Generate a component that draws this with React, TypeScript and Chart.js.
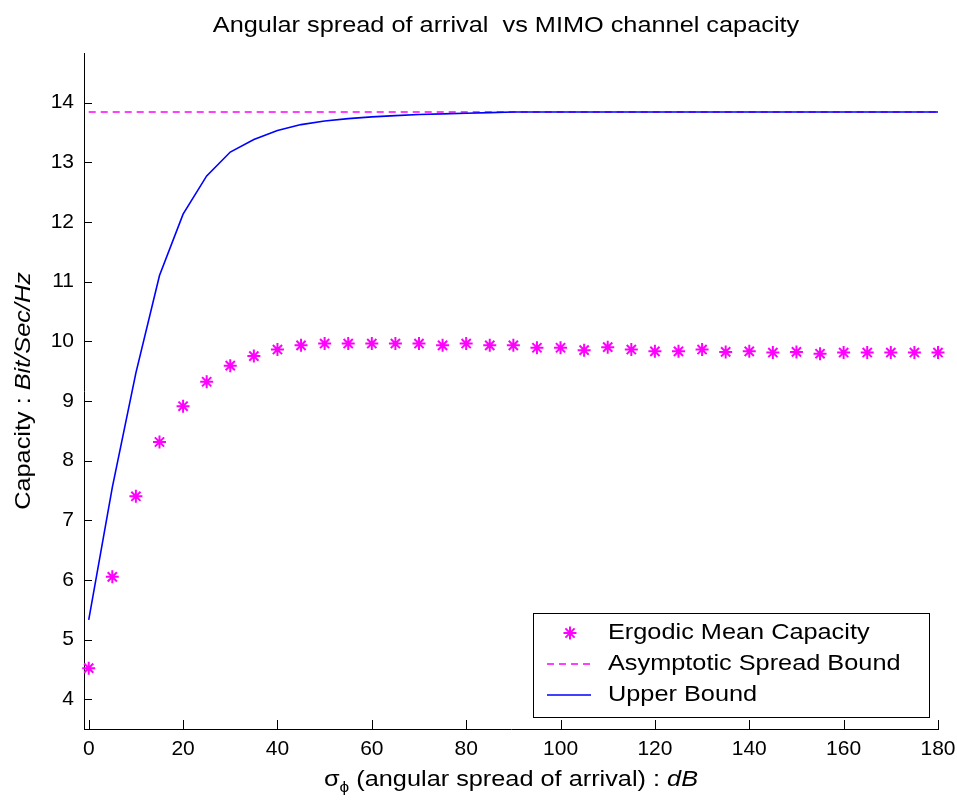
import React, { useEffect, useRef } from 'react';
import { Chart, registerables } from 'chart.js';

Chart.register(...registerables);

// ---- data ----
const SIGMA = [0, 5, 10, 15, 20, 25, 30, 35, 40, 45, 50, 55, 60, 65, 70, 75, 80, 85, 90, 95, 100, 105, 110, 115, 120, 125, 130, 135, 140, 145, 150, 155, 160, 165, 170, 175, 180];
const ERGODIC = [4.52, 6.05, 7.4, 8.31, 8.91, 9.32, 9.59, 9.75, 9.86, 9.93, 9.96, 9.96, 9.96, 9.96, 9.96, 9.93, 9.96, 9.93, 9.93, 9.89, 9.89, 9.85, 9.9, 9.86, 9.83, 9.83, 9.86, 9.82, 9.83, 9.81, 9.82, 9.79, 9.81, 9.81, 9.81, 9.81, 9.81];
const UPPER = [5.33, 7.55, 9.47, 11.1, 12.13, 12.77, 13.17, 13.38, 13.53, 13.63, 13.69, 13.73, 13.76, 13.78, 13.8, 13.81, 13.82, 13.83, 13.84, 13.84, 13.84, 13.84, 13.84, 13.84, 13.84, 13.84, 13.84, 13.84, 13.84, 13.84, 13.84, 13.84, 13.84, 13.84, 13.84, 13.84, 13.84];
const ASYMPTOTIC_X = [0, 180];
const ASYMPTOTIC_Y = [13.84, 13.84];
const X_TICKS = [0, 20, 40, 60, 80, 100, 120, 140, 160, 180];
const Y_TICKS = [4, 5, 6, 7, 8, 9, 10, 11, 12, 13, 14];
const SERIES_NAMES = ['Ergodic Mean Capacity', 'Upper Bound', 'Asymptotic Spread Bound'];
const LEGEND_ORDER = [0, 2, 1];
const TITLE = 'Angular spread of arrival  vs MIMO channel capacity';

const FONT = "'Liberation Sans', Arial, Helvetica, sans-serif";
const STRETCH = 1.15;
const MAGENTA = '#ff00ff';
const BLUE = '#0000ff';

type Seg = { text: string; font: string; dy?: number };

function segWidth(ctx: CanvasRenderingContext2D, segs: Seg[]) {
  let w = 0;
  for (const s of segs) {
    ctx.font = s.font;
    w += ctx.measureText(s.text).width;
  }
  return w;
}

function drawSegs(ctx: CanvasRenderingContext2D, segs: Seg[], cx: number, cy: number, rotate = 0) {
  ctx.save();
  ctx.translate(cx, cy);
  if (rotate) ctx.rotate(rotate);
  ctx.scale(STRETCH, 1);
  const w = segWidth(ctx, segs);
  let x = -w / 2;
  ctx.textBaseline = 'alphabetic';
  ctx.textAlign = 'left';
  ctx.fillStyle = '#000';
  for (const s of segs) {
    ctx.font = s.font;
    ctx.fillText(s.text, x, s.dy || 0);
    x += ctx.measureText(s.text).width;
  }
  ctx.restore();
}

function drawStar(ctx: CanvasRenderingContext2D, x: number, y: number, r: number, color: string, lw: number) {
  ctx.save();
  ctx.strokeStyle = color;
  ctx.lineWidth = lw;
  ctx.beginPath();
  const d = r * Math.SQRT1_2;
  ctx.moveTo(x - r, y); ctx.lineTo(x + r, y);
  ctx.moveTo(x, y - r); ctx.lineTo(x, y + r);
  ctx.moveTo(x - d, y - d); ctx.lineTo(x + d, y + d);
  ctx.moveTo(x - d, y + d); ctx.lineTo(x + d, y - d);
  ctx.stroke();
  ctx.restore();
}

const whiteBg = {
  id: 'whiteBg',
  beforeDraw(chart: any) {
    const { ctx, width, height } = chart;
    ctx.save();
    ctx.fillStyle = '#fff';
    ctx.fillRect(0, 0, width, height);
    ctx.restore();
  },
};

const decor = {
  id: 'matlabDecor',
  afterDraw(chart: any) {
    const { ctx, chartArea: a, scales } = chart;
    const xs = scales.x;
    const ys = scales.y;
    ctx.save();
    // inward tick marks
    ctx.strokeStyle = '#000';
    ctx.lineWidth = 1;
    ctx.beginPath();
    ys.ticks.forEach((t: any) => {
      const p = Math.round(ys.getPixelForValue(t.value)) + 0.5;
      ctx.moveTo(a.left, p);
      ctx.lineTo(a.left + 8, p);
    });
    xs.ticks.forEach((t: any) => {
      const p = Math.round(xs.getPixelForValue(t.value)) + 0.5;
      ctx.moveTo(p, a.bottom);
      ctx.lineTo(p, a.bottom - 9);
    });
    ctx.stroke();

    const cx = (a.left + a.right) / 2;
    // title
    drawSegs(ctx, [{ text: TITLE, font: `22px ${FONT}` }], cx - 5, 32);
    // x label
    drawSegs(
      ctx,
      [
        { text: 'σ', font: `22px ${FONT}` },
        { text: 'ϕ', font: `15px ${FONT}`, dy: 6 },
        { text: ' (angular spread of arrival) : ', font: `22px ${FONT}` },
        { text: 'dB', font: `italic 22px ${FONT}` },
      ],
      cx,
      786
    );
    // y label
    drawSegs(
      ctx,
      [
        { text: 'Capacity : ', font: `22px ${FONT}` },
        { text: 'Bit/Sec/Hz', font: `italic 22px ${FONT}` },
      ],
      30,
      (a.top + a.bottom) / 2,
      -Math.PI / 2
    );

    // legend box
    const L = { x: 533.5, y: 613.5, w: 396, h: 104 };
    ctx.fillStyle = '#fff';
    ctx.fillRect(L.x, L.y, L.w, L.h);
    ctx.strokeStyle = '#000';
    ctx.lineWidth = 1;
    ctx.strokeRect(L.x, L.y, L.w, L.h);
    const rows = [633, 664, 695];
    LEGEND_ORDER.forEach((di, i) => {
      const ds = chart.data.datasets[di];
      const y = rows[i];
      if (!ds.showLine) {
        drawStar(ctx, 570, y, 6.5, ds.borderColor, 2);
      } else {
        ctx.save();
        ctx.strokeStyle = ds.borderColor;
        ctx.lineWidth = ds.borderWidth;
        ctx.setLineDash(ds.borderDash || []);
        ctx.beginPath();
        ctx.moveTo(547, y);
        ctx.lineTo(591, y);
        ctx.stroke();
        ctx.restore();
      }
      ctx.save();
      ctx.translate(608, y);
      ctx.scale(STRETCH, 1);
      ctx.font = `22px ${FONT}`;
      ctx.fillStyle = '#000';
      ctx.textAlign = 'left';
      ctx.textBaseline = 'middle';
      ctx.fillText(ds.label, 0, 0);
      ctx.restore();
    });
    ctx.restore();
  },
};

export default function App() {
  const ref = useRef<HTMLCanvasElement | null>(null);

  useEffect(() => {
    if (!ref.current) return;
    const chart = new Chart(ref.current, {
      type: 'scatter',
      data: {
        datasets: [
          {
            label: SERIES_NAMES[0],
            data: SIGMA.map((x, i) => ({ x, y: ERGODIC[i] })),
            showLine: false,
            pointStyle: 'star',
            pointRadius: 6.5,
            pointBorderWidth: 2,
            borderColor: MAGENTA,
            backgroundColor: MAGENTA,
            clip: false as any,
          },
          {
            label: SERIES_NAMES[1],
            data: SIGMA.map((x, i) => ({ x, y: UPPER[i] })),
            showLine: true,
            pointRadius: 0,
            borderColor: BLUE,
            backgroundColor: BLUE,
            borderWidth: 1.6,
            tension: 0,
          },
          {
            label: SERIES_NAMES[2],
            data: ASYMPTOTIC_X.map((x, i) => ({ x, y: ASYMPTOTIC_Y[i] })),
            showLine: true,
            pointRadius: 0,
            borderColor: MAGENTA,
            backgroundColor: MAGENTA,
            borderWidth: 1.6,
            borderDash: [7, 5],
          },
        ],
      },
      options: {
        responsive: false,
        animation: false,
        layout: { padding: { left: 0, right: 19, top: 53, bottom: 0 } },
        plugins: {
          legend: { display: false },
          title: { display: false },
          tooltip: { enabled: false },
        },
        scales: {
          x: {
            type: 'linear',
            min: -1,
            max: 180,
            afterBuildTicks: (s: any) => {
              s.ticks = X_TICKS.map((v) => ({ value: v }));
            },
            afterFit: (s: any) => {
              s.height = 79;
              s.paddingLeft = 0;
              s.paddingRight = 0;
            },
            grid: { display: false, drawTicks: false },
            border: { display: true, color: '#000', width: 1 },
            ticks: {
              color: '#000',
              font: { family: FONT, size: 21 },
              padding: 8,
              maxRotation: 0,
              autoSkip: false,
              callback: (v: any) => String(v),
            },
          },
          y: {
            type: 'linear',
            min: 3.5,
            max: 14.83,
            afterBuildTicks: (s: any) => {
              s.ticks = Y_TICKS.map((v) => ({ value: v }));
            },
            afterFit: (s: any) => {
              s.width = 84;
              s.paddingTop = 0;
              s.paddingBottom = 0;
            },
            grid: { display: false, drawTicks: false },
            border: { display: true, color: '#000', width: 1 },
            ticks: {
              color: '#000',
              font: { family: FONT, size: 21 },
              padding: 10,
              autoSkip: false,
              callback: (v: any) => String(v),
            },
          },
        },
      },
      plugins: [whiteBg, decor],
    } as any);
    return () => chart.destroy();
  }, []);

  return (
    <div style={{ position: 'absolute', left: 0, top: 0, width: 957, height: 808, background: '#fff' }}>
      <canvas ref={ref} width={957} height={808} style={{ display: 'block' }} />
    </div>
  );
}
